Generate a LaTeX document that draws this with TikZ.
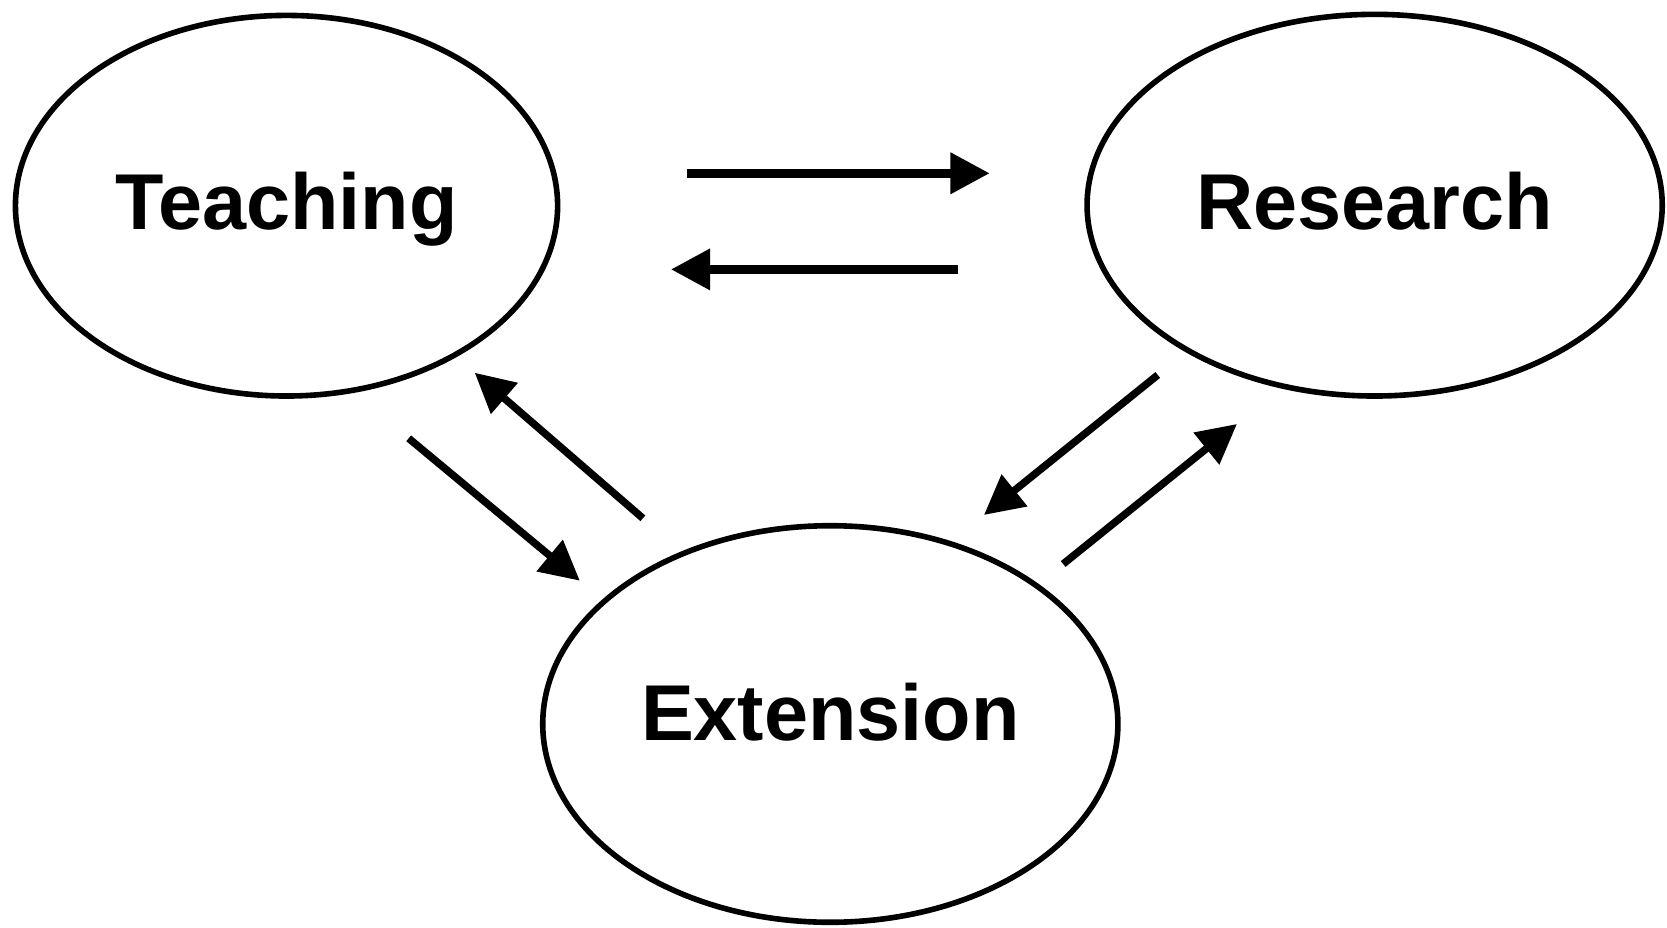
\documentclass[tikz,border=0pt]{standalone}
\usepackage{fontspec}
\setmainfont{Liberation Sans}
\usetikzlibrary{arrows.meta,shapes.geometric}

\tikzset{
  area/.style={ellipse, draw, line width=1.5pt, inner sep=0pt, text depth=0pt,
    font=\fontsize{21.2}{25}\selectfont\bfseries},
  flow/.style={line width=2.4pt, -{Triangle[length=0.37cm,width=0.37cm]}},
  slant/.style={flow, line width=2pt}
}

\begin{document}
\begin{tikzpicture}[line cap=butt]
				% Fix the page size
				\useasboundingbox (0,0) rectangle (15.68,-8.72);
				
				% The three areas
				\node[area, minimum width=5.10cm, minimum height=3.58cm, text height=0.444cm] (teach) at (2.695,-1.935) {Teaching};
				\node[area, minimum width=5.41cm, minimum height=3.59cm, text height=0.450cm] (research) at (12.93,-1.93) {Research};
				\node[area, minimum width=5.41cm, minimum height=3.73cm, text height=0.314cm] (ext) at (7.81,-6.81) {Extension};
				
				% Arrow end points
				\coordinate (TR1) at (6.46,-1.63);    % Teaching to Research
				\coordinate (TR2) at (9.31,-1.63);
				\coordinate (RT1) at (9.01,-2.534);   % Research to Teaching
				\coordinate (RT2) at (6.31,-2.534);
				\coordinate (ET1) at (6.047,-4.875);  % Extension to Teaching
				\coordinate (ET2) at (4.465,-3.506);
				\coordinate (TE1) at (3.844,-4.123);  % Teaching to Extension
				\coordinate (TE2) at (5.454,-5.462);
				\coordinate (RE1) at (10.89,-3.527);  % Research to Extension
				\coordinate (RE2) at (9.255,-4.844);
				\coordinate (ER1) at (10.00,-5.305);  % Extension to Research
				\coordinate (ER2) at (11.635,-3.988);
				
				% Draw the arrows
				\draw[flow] (TR1) -- (TR2);
				\draw[flow] (RT1) -- (RT2);
				\draw[slant] (ET1) -- (ET2);
				\draw[slant] (TE1) -- (TE2);
				\draw[slant] (RE1) -- (RE2);
				\draw[slant] (ER1) -- (ER2);
\end{tikzpicture}
\end{document}
